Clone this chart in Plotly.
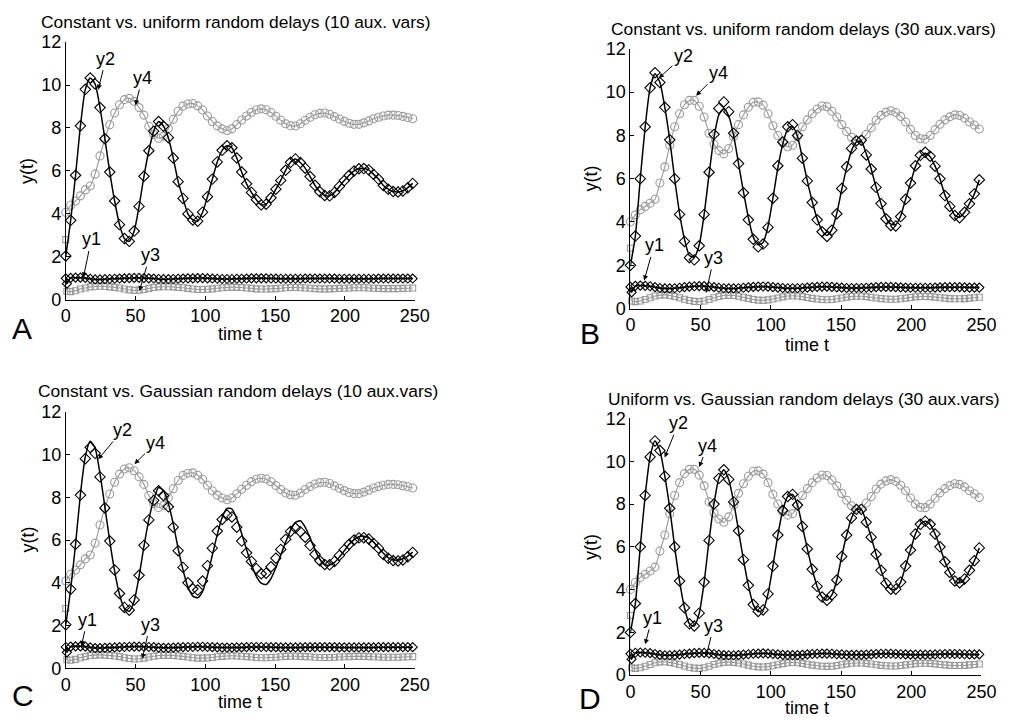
import plotly.graph_objects as go

# ---------------- data ----------------
t = [0, 3.5, 7, 10.5, 14, 17.5, 21, 24.5, 28, 31.5,
     35, 38.5, 42, 45.5, 49, 52.5, 56, 59.5, 63, 66.5,
     70, 73.5, 77, 80.5, 84, 87.5, 91, 94.5, 98, 101.5,
     105, 108.5, 112, 115.5, 119, 122.5, 126, 129.5, 133, 136.5,
     140, 143.5, 147, 150.5, 154, 157.5, 161, 164.5, 168, 171.5,
     175, 178.5, 182, 185.5, 189, 192.5, 196, 199.5, 203, 206.5,
     210, 213.5, 217, 220.5, 224, 227.5, 231, 234.5, 238, 241.5,
     245, 248.5]
t_init = [0, 0.8] + t[1:]

xticks = [0, 50, 100, 150, 200, 250]
yticks = [0, 2, 4, 6, 8, 10, 12]

# y2, constant delays, 10 aux vars (panels A and C markers, A line)
y2_const10 = [2.04, 3.7, 5.8, 8.1, 9.8, 10.33, 10.05, 8.95, 7.5, 5.95,
              4.6, 3.5, 2.85, 2.72, 3.2, 4.35, 5.75, 6.94, 7.85, 8.3,
              8.08, 7.55, 6.6, 5.5, 4.72, 4.0, 3.72, 3.66, 4.08, 4.8,
              5.62, 6.42, 6.96, 7.17, 7.08, 6.6, 5.95, 5.4, 5.0, 4.66,
              4.42, 4.45, 4.75, 5.15, 5.56, 6.03, 6.4, 6.56, 6.39, 6.13,
              5.74, 5.33, 5.03, 4.86, 4.84, 5.0, 5.28, 5.55, 5.8, 6.0,
              6.1, 6.11, 6.05, 5.84, 5.62, 5.32, 5.15, 5.04, 5.02, 5.07,
              5.22, 5.42]
# y2, Gaussian delays, 10 aux vars (panel C line)
y2_gauss10 = [2.04, 3.7, 5.8, 8.15, 9.9, 10.62, 10.3, 9.1, 7.55, 5.95,
              4.55, 3.45, 2.8, 2.67, 3.15, 4.3, 5.7, 6.95, 7.9, 8.45,
              8.3, 7.7, 6.75, 5.6, 4.6, 3.8, 3.38, 3.3, 3.6, 4.35,
              5.3, 6.25, 7.05, 7.48, 7.45, 7.0, 6.3, 5.55, 4.85, 4.3,
              3.98, 3.92, 4.2, 4.7, 5.3, 5.9, 6.45, 6.82, 6.9, 6.6,
              6.1, 5.55, 5.1, 4.85, 4.83, 4.95, 5.2, 5.5, 5.8, 6.02,
              6.15, 6.18, 6.1, 5.9, 5.65, 5.38, 5.18, 5.08, 5.06, 5.12,
              5.25, 5.43]
# y2, constant delays, 30 aux vars (panel B markers)
y2_const30 = [2.0, 3.35, 6.0, 8.4, 10.2, 10.9, 10.45, 9.3, 7.8, 6.0,
              4.35, 3.1, 2.35, 2.25, 2.9, 4.35, 6.3, 8.05, 9.25, 9.55,
              9.1, 8.1, 6.7, 5.35, 4.1, 3.2, 2.85, 2.98, 3.75, 5.1,
              6.6, 7.7, 8.4, 8.5, 8.0, 6.95, 5.9, 4.9, 4.1, 3.55,
              3.33, 3.62, 4.38, 5.55, 6.55, 7.4, 7.75, 7.78, 7.1, 6.45,
              5.6, 4.85, 4.15, 3.84, 3.82, 4.25, 5.05, 5.8, 6.6, 7.08,
              7.22, 7.04, 6.58, 6.0, 5.22, 4.72, 4.3, 4.2, 4.45, 4.84,
              5.3, 5.95]
# y2, uniform delays, 30 aux vars (panel B line)
y2_unif30 = [2.0, 3.35, 6.0, 8.4, 10.2, 10.85, 10.45, 9.3, 7.8, 6.0,
             4.4, 3.2, 2.45, 2.38, 2.95, 4.35, 6.2, 7.9, 8.95, 9.25,
             8.9, 8.0, 6.7, 5.4, 4.2, 3.3, 2.95, 3.05, 3.8, 5.1,
             6.5, 7.6, 8.3, 8.42, 7.95, 6.95, 5.9, 4.95, 4.15, 3.6,
             3.38, 3.65, 4.4, 5.5, 6.5, 7.3, 7.7, 7.72, 7.15, 6.45,
             5.6, 4.85, 4.2, 3.9, 3.88, 4.28, 5.05, 5.8, 6.55, 7.02,
             7.18, 7.02, 6.58, 6.0, 5.25, 4.75, 4.32, 4.22, 4.45, 4.85,
             5.3, 5.95]
# y2, uniform vs Gaussian, 30 aux vars (panel D)
y2_ug30 = [2.0, 3.35, 6.0, 8.4, 10.2, 10.95, 10.5, 9.3, 7.8, 6.0,
           4.4, 3.15, 2.4, 2.3, 2.9, 4.35, 6.3, 8.0, 9.2, 9.6,
           9.15, 8.1, 6.75, 5.4, 4.2, 3.3, 2.98, 3.05, 3.8, 5.1,
           6.55, 7.7, 8.35, 8.45, 7.95, 6.95, 5.9, 4.95, 4.15, 3.65,
           3.5, 3.75, 4.45, 5.55, 6.55, 7.35, 7.75, 7.75, 7.15, 6.45,
           5.65, 4.9, 4.3, 4.02, 4.02, 4.35, 5.1, 5.85, 6.6, 7.05,
           7.2, 7.05, 6.6, 6.0, 5.3, 4.8, 4.4, 4.32, 4.5, 4.9,
           5.35, 5.95]
# y4, 10 aux vars
y4_10 = [4.08, 4.4, 4.6, 4.84, 5.12, 5.3, 5.85, 6.7, 7.5, 8.15,
         8.7, 9.08, 9.32, 9.38, 9.24, 8.95, 8.6, 8.08, 7.7, 7.52,
         7.62, 7.98, 8.4, 8.78, 9.02, 9.12, 9.14, 9.03, 8.84, 8.56,
         8.3, 8.1, 7.96, 7.88, 7.96, 8.16, 8.37, 8.56, 8.73, 8.85,
         8.89, 8.85, 8.72, 8.55, 8.36, 8.2, 8.11, 8.09, 8.2, 8.36,
         8.5, 8.62, 8.68, 8.7, 8.64, 8.53, 8.42, 8.31, 8.22, 8.17,
         8.17, 8.24, 8.33, 8.43, 8.5, 8.56, 8.6, 8.6, 8.58, 8.54,
         8.49, 8.43]
# y4, 30 aux vars
y4_30 = [4.01, 4.33, 4.57, 4.72, 4.87, 5.05, 5.8, 6.55, 7.55, 8.4,
         9.0, 9.42, 9.62, 9.62, 9.35, 8.85, 8.1, 7.6, 7.3, 7.15,
         7.4, 7.95, 8.5, 8.95, 9.3, 9.53, 9.55, 9.4, 9.0, 8.45,
         8.0, 7.65, 7.48, 7.55, 7.95, 8.4, 8.72, 9.0, 9.22, 9.36,
         9.33, 9.12, 8.85, 8.5, 8.18, 7.92, 7.76, 7.78, 8.05, 8.35,
         8.7, 8.93, 9.08, 9.14, 9.06, 8.88, 8.62, 8.28, 8.0, 7.85,
         7.83, 8.0, 8.27, 8.52, 8.72, 8.86, 8.95, 8.92, 8.8, 8.62,
         8.48, 8.3]
# y3 (on t_init), 10 and 30 aux vars
y3_10 = [2.8, 0.4,
         0.38, 0.42, 0.5, 0.55, 0.6, 0.62, 0.63, 0.62, 0.6, 0.58,
         0.55, 0.5, 0.46, 0.44, 0.45, 0.48, 0.53, 0.57, 0.6, 0.61,
         0.61, 0.6, 0.58, 0.56, 0.53, 0.5, 0.48, 0.48, 0.49, 0.51,
         0.54, 0.56, 0.58, 0.59, 0.58, 0.57, 0.55, 0.53, 0.51, 0.5,
         0.5, 0.51, 0.52, 0.54, 0.56, 0.57, 0.57, 0.56, 0.55, 0.54,
         0.52, 0.51, 0.51, 0.51, 0.52, 0.53, 0.54, 0.55, 0.56, 0.56,
         0.56, 0.55, 0.54, 0.53, 0.52, 0.52, 0.52, 0.52, 0.53, 0.54,
         0.55]
y3_30 = [2.79, 0.35,
         0.32, 0.35, 0.42, 0.5, 0.58, 0.62, 0.63, 0.6, 0.56, 0.5,
         0.43, 0.37, 0.33, 0.32, 0.35, 0.42, 0.5, 0.56, 0.6, 0.61,
         0.6, 0.57, 0.52, 0.47, 0.42, 0.39, 0.38, 0.4, 0.44, 0.49,
         0.54, 0.58, 0.59, 0.58, 0.55, 0.51, 0.47, 0.44, 0.42, 0.41,
         0.42, 0.45, 0.49, 0.53, 0.56, 0.57, 0.57, 0.55, 0.52, 0.49,
         0.46, 0.44, 0.43, 0.43, 0.45, 0.48, 0.51, 0.54, 0.56, 0.56,
         0.55, 0.53, 0.5, 0.48, 0.46, 0.45, 0.45, 0.46, 0.48, 0.5,
         0.52]
# y1 (on t_init), 10 and 30 aux vars
y1_10 = [1.0, 0.75,
         1.02, 1.03, 1.03, 1.02, 0.98, 0.95, 0.95, 0.96, 0.97, 0.98,
         0.99, 1.0, 1.01, 1.02, 1.02, 1.01, 1.0, 0.99, 0.97, 0.96,
         0.96, 0.97, 0.98, 0.99, 1.0, 1.0, 1.01, 1.01, 1.0, 0.99,
         0.98, 0.97, 0.97, 0.97, 0.98, 0.98, 0.99, 1.0, 1.0, 1.0,
         1.0, 0.99, 0.99, 0.98, 0.98, 0.98, 0.98, 0.98, 0.99, 0.99,
         0.99, 0.99, 0.99, 0.99, 0.99, 0.98, 0.98, 0.98, 0.98, 0.98,
         0.98, 0.98, 0.98, 0.99, 0.99, 0.99, 0.99, 0.99, 0.99, 0.99,
         0.99]
y1_30 = [1.0, 0.75,
         1.05, 1.06, 1.05, 1.03, 0.99, 0.95, 0.93, 0.93, 0.94, 0.96,
         0.99, 1.01, 1.03, 1.04, 1.04, 1.02, 0.99, 0.96, 0.94, 0.93,
         0.93, 0.94, 0.96, 0.98, 1.0, 1.01, 1.02, 1.01, 0.99, 0.97,
         0.95, 0.94, 0.94, 0.94, 0.95, 0.97, 0.99, 1.0, 1.01, 1.01,
         1.0, 0.98, 0.97, 0.95, 0.95, 0.95, 0.95, 0.96, 0.97, 0.99,
         1.0, 1.0, 1.0, 0.99, 0.98, 0.97, 0.96, 0.96, 0.96, 0.96,
         0.96, 0.97, 0.98, 0.99, 0.99, 0.99, 0.99, 0.98, 0.97, 0.97,
         0.97]

for arr in [y2_const10, y2_gauss10, y2_const30, y2_unif30, y2_ug30, y4_10, y4_30]:
    assert len(arr) == len(t), len(arr)
for arr in [y3_10, y3_30, y1_10, y1_30]:
    assert len(arr) == len(t_init), len(arr)

titles = ["Constant vs. uniform random delays (10 aux. vars)",
          "Constant vs. uniform random delays (30 aux.vars)",
          "Constant vs. Gaussian random delays (10 aux.vars)",
          "Uniform vs. Gaussian random delays (30 aux.vars)"]
letters = ["A", "B", "C", "D"]

# ---------------- styling ----------------
W, H = 1016, 727
FONT = "Liberation Sans, Arial, sans-serif"
GREY = "#9a9a9a"
BLACK = "#000000"

# panel pixel boxes: (left, right, top, bottom)
boxes = [(62, 418, 33, 298), (638, 996, 40, 307), (62, 418, 413, 677), (638, 996, 420, 684)]
title_pos = [(236, 12), (815, 20), (238, 392), (815, 400)]
xlabel_pos = [(240, 333), (818, 344), (240, 712), (818, 718)]
ylabel_pos = [(23, 166), (598, 173), (23, 545), (598, 552)]
letter_pos = [(17, 328), (597, 333), (18, 705), (597, 708)]

# arrow labels: (text, head_x, head_y, text_x, text_y) in data units
arrow_sets = [
    [("y2", 23.2, 9.78, 28.8, 11.23), ("y4", 49.9, 9.06, 54.8, 10.33),
     ("y1", 12.6, 1.04, 18.3, 2.81), ("y3", 52.7, 0.41, 60.4, 2.08)],
    [("y2", 20.3, 10.65, 37.7, 11.69), ("y4", 46.8, 9.84, 62.8, 10.88),
     ("y1", 9.8, 1.3, 16.8, 2.92), ("y3", 53.8, 0.72, 59.4, 2.34)],
    [("y2", 23.2, 9.77, 40.7, 11.14), ("y4", 49.2, 9.55, 64.6, 10.55),
     ("y1", 11.2, 1.05, 15.4, 2.27), ("y3", 54.8, 0.45, 60.4, 2.05)],
    [("y2", 24.4, 10.18, 34.2, 11.77), ("y4", 48.9, 9.73, 55.2, 10.73),
     ("y1", 10.5, 1.45, 15.4, 2.68), ("y3", 53.8, 0.86, 59.4, 2.32)],
]

fig = go.Figure()


def add(panel, x, y, mode, color, symbol, lw=1.4, msize=7):
    sfx = "" if panel == 0 else str(panel + 1)
    fig.add_trace(go.Scatter(
        x=x, y=y, mode=mode, xaxis="x" + sfx, yaxis="y" + sfx,
        line=dict(color=color, width=lw, shape="spline", smoothing=0.6),
        marker=dict(symbol=symbol, size=msize, color=color, line=dict(color=color, width=1.1)),
        cliponaxis=False, showlegend=False, hoverinfo="skip"))


# Panel A
add(0, t, y4_10, "lines+markers", GREY, "circle-open", lw=1.1, msize=8)
add(0, t_init, y3_10, "lines+markers", GREY, "square-open", lw=1.1, msize=6)
add(0, t, y2_const10, "lines+markers", BLACK, "diamond-open", lw=1.5, msize=8)
add(0, t_init, y1_10, "lines+markers", BLACK, "diamond-open", lw=1.5, msize=7)
# Panel B
add(1, t, y4_30, "lines+markers", GREY, "circle-open", lw=1.1, msize=8)
add(1, t_init, y3_30, "lines+markers", GREY, "square-open", lw=1.1, msize=6)
add(1, t, y2_unif30, "lines", BLACK, "diamond-open", lw=1.5)
add(1, t, y2_const30, "markers", BLACK, "diamond-open", msize=8)
add(1, t_init, y1_30, "lines+markers", BLACK, "diamond-open", lw=1.5, msize=7)
# Panel C
add(2, t, y4_10, "lines+markers", GREY, "circle-open", lw=1.1, msize=8)
add(2, t_init, y3_10, "lines+markers", GREY, "square-open", lw=1.1, msize=6)
add(2, t, y2_gauss10, "lines", BLACK, "diamond-open", lw=1.5)
add(2, t, y2_const10, "markers", BLACK, "diamond-open", msize=8)
add(2, t_init, y1_10, "lines+markers", BLACK, "diamond-open", lw=1.5, msize=7)
# Panel D
add(3, t, y4_30, "lines+markers", GREY, "circle-open", lw=1.1, msize=8)
add(3, t_init, y3_30, "lines+markers", GREY, "square-open", lw=1.1, msize=6)
add(3, t, y2_ug30, "lines+markers", BLACK, "diamond-open", lw=1.5, msize=8)
add(3, t_init, y1_30, "lines+markers", BLACK, "diamond-open", lw=1.5, msize=7)

layout = dict(width=W, height=H, margin=dict(l=0, r=0, t=0, b=0),
              paper_bgcolor="white", plot_bgcolor="white",
              font=dict(family=FONT, color="black", size=18))

annotations = []
for i, (l, r, tp, bt) in enumerate(boxes):
    sfx = "" if i == 0 else str(i + 1)
    common = dict(showline=True, linecolor="black", linewidth=1, ticks="inside",
                  ticklen=4, tickcolor="black", tickwidth=1, showgrid=False,
                  zeroline=False, tickfont=dict(family=FONT, size=18, color="black"))
    layout["xaxis" + sfx] = dict(domain=[l / W, r / W], range=[0, 250], tickvals=xticks,
                                 anchor="y" + sfx, **common)
    layout["yaxis" + sfx] = dict(domain=[1 - bt / H, 1 - tp / H], range=[0, 12], tickvals=yticks,
                                 anchor="x" + sfx, **common)
    px, py = title_pos[i]
    annotations.append(dict(text=titles[i], x=px / W, y=1 - py / H, xref="paper", yref="paper",
                            showarrow=False, xanchor="center", yanchor="middle",
                            font=dict(family=FONT, size=17.4)))
    px, py = xlabel_pos[i]
    annotations.append(dict(text="time t", x=px / W, y=1 - py / H, xref="paper", yref="paper",
                            showarrow=False, xanchor="center", yanchor="middle",
                            font=dict(family=FONT, size=18)))
    px, py = ylabel_pos[i]
    annotations.append(dict(text="y(t)", x=px / W, y=1 - py / H, xref="paper", yref="paper",
                            showarrow=False, xanchor="center", yanchor="middle", textangle=-90,
                            font=dict(family=FONT, size=18)))
    px, py = letter_pos[i]
    annotations.append(dict(text=letters[i], x=px / W, y=1 - py / H, xref="paper", yref="paper",
                            showarrow=False, xanchor="center", yanchor="middle",
                            font=dict(family=FONT, size=30)))
    for (txt, hx, hy, tx, ty) in arrow_sets[i]:
        annotations.append(dict(text=txt, x=hx, y=hy, ax=tx, ay=ty,
                                xref="x" + sfx, yref="y" + sfx, axref="x" + sfx, ayref="y" + sfx,
                                showarrow=True, arrowhead=2, arrowsize=1, arrowwidth=1,
                                arrowcolor="black", font=dict(family=FONT, size=18)))

layout["annotations"] = annotations
fig.update_layout(**layout)
fig.write_html("out.html")
